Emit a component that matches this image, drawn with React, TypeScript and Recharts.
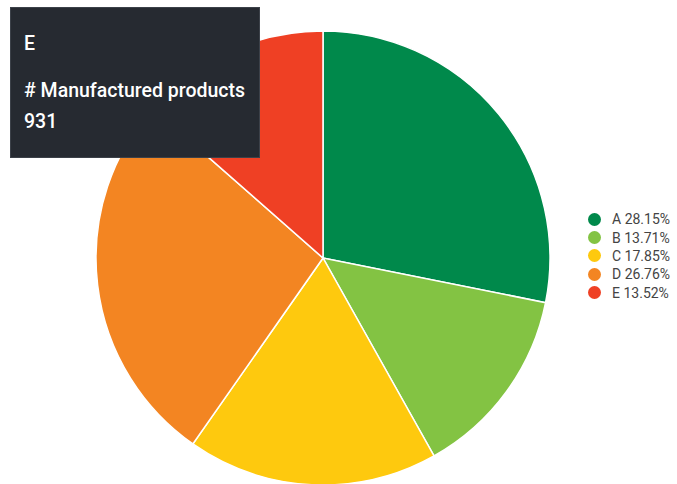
import { PieChart, Pie, Cell, Tooltip, Legend } from "recharts";

const categories = ["A", "B", "C", "D", "E"];
const products = [1938, 944, 1229, 1842, 931];
const colors = ["#00894B", "#83C343", "#FEC90E", "#F38522", "#EF4024"];

const seriesLabel = "# Manufactured products";
const total = products.reduce((s, v) => s + v, 0);

const data = categories.map((name, i) => ({ name, value: products[i] }));

function pct(v: number): string {
  return ((v / total) * 100).toFixed(2) + "%";
}

function TipBox({ payload }: any) {
  const item = payload && payload.length ? payload[0] : null;
  const name = item ? item.name : categories[4];
  const value = item ? item.value : products[4];
  return (
    <div
      style={{
        width: 250,
        height: 151,
        boxSizing: "border-box",
        background: "#262A31",
        border: "1px solid #3C4149",
        color: "#FFFFFF",
        fontFamily: "Roboto, sans-serif",
        fontWeight: 500,
        fontSize: 19.5,
        padding: "25px 0 0 13px",
        lineHeight: "22px",
        whiteSpace: "nowrap",
      }}
    >
      <div>{name}</div>
      <div style={{ marginTop: 25 }}>{seriesLabel}</div>
      <div style={{ marginTop: 9 }}>{value}</div>
    </div>
  );
}

function LegendList() {
  return (
    <div style={{ fontFamily: "Roboto, sans-serif", fontSize: 14, color: "#444" }}>
      {categories.map((c, i) => (
        <div
          key={c}
          style={{ display: "flex", alignItems: "center", height: 18.4 }}
        >
          <span
            style={{
              width: 13,
              height: 13,
              borderRadius: "50%",
              background: colors[i],
              marginRight: 11,
              display: "inline-block",
            }}
          />
          <span>
            {c} {pct(products[i])}
          </span>
        </div>
      ))}
    </div>
  );
}

export default function App() {
  return (
    <div style={{ position: "absolute", left: 0, top: 0, width: 677, height: 484, background: "#fff" }}>
      <PieChart width={677} height={484}>
        <Pie
          data={data}
          dataKey="value"
          nameKey="name"
          cx={318}
          cy={253}
          outerRadius={227}
          startAngle={90}
          endAngle={-270}
          stroke="#ffffff"
          strokeWidth={1.5}
          isAnimationActive={false}
        >
          {data.map((d, i) => (
            <Cell key={d.name} fill={colors[i]} />
          ))}
        </Pie>
        <Legend
          content={() => <LegendList />}
          wrapperStyle={{ position: "absolute", left: 588, top: 210, width: 90 }}
        />
        <Tooltip
          active
          defaultIndex={4}
          position={{ x: 10, y: 7 }}
          content={<TipBox />}
          allowEscapeViewBox={{ x: true, y: true }}
          wrapperStyle={{ zIndex: 10, outline: "none" }}
          isAnimationActive={false}
        />
      </PieChart>
    </div>
  );
}
